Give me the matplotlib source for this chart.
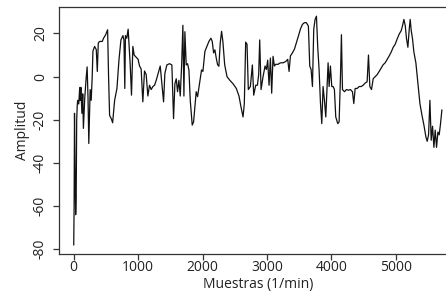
import matplotlib
matplotlib.use('Agg')
import matplotlib.pyplot as plt

# muestras / amplitud
muestras = [0, 6, 12, 20, 30, 38, 46, 55, 62, 78, 93, 101, 111, 127, 140, 150, 171, 192, 208, 222,
            234, 255, 271, 287, 298, 324, 350, 366, 381, 401, 443, 463, 494, 526, 541, 557, 583, 604,
            635, 671, 702, 733, 764, 780, 793, 803, 824, 845, 876, 897, 918, 938, 969, 1000, 1021,
            1047, 1073, 1099, 1125, 1151, 1177, 1203, 1229, 1255, 1281, 1307, 1343, 1364, 1395, 1415,
            1446, 1488, 1524, 1550, 1571, 1592, 1612, 1633, 1654, 1675, 1695, 1711, 1726, 1747, 1768,
            1789, 1809, 1840, 1861, 1882, 1902, 1923, 1954, 1985, 2006, 2037, 2068, 2099, 2130, 2151,
            2172, 2192, 2213, 2234, 2254, 2275, 2296, 2316, 2344, 2380, 2421, 2473, 2525, 2566, 2597,
            2629, 2649, 2670, 2691, 2711, 2743, 2774, 2795, 2826, 2852, 2872, 2888, 2909, 2940, 2971,
            2992, 3012, 3033, 3054, 3074, 3095, 3116, 3137, 3173, 3209, 3250, 3292, 3323, 3344, 3365,
            3396, 3427, 3458, 3489, 3520, 3551, 3582, 3613, 3644, 3665, 3686, 3707, 3727, 3748, 3769,
            3789, 3810, 3831, 3852, 3872, 3893, 3914, 3934, 3950, 3966, 3986, 4007, 4028, 4048, 4069,
            4100, 4121, 4142, 4157, 4173, 4204, 4235, 4266, 4297, 4328, 4349, 4370, 4401, 4432, 4463,
            4494, 4525, 4556, 4577, 4598, 4624, 4650, 4681, 4712, 4743, 4774, 4805, 4836, 4868, 4899,
            4930, 4961, 4992, 5023, 5054, 5085, 5106, 5127, 5148, 5168, 5189, 5210, 5225, 5241, 5261,
            5282, 5313, 5344, 5376, 5407, 5438, 5469, 5489, 5510, 5531, 5551, 5572, 5593, 5613, 5634,
            5655, 5675, 5696, 5717]
amplitud = [-78, -60, -17, -42, -64, -56, -20, -13, -11, -12.7, -5, -11, -5, -17, -8, -24, -10, -1, 4.5, -10,
            -31, -6, -11, 0, 11.8, 14, 12.5, 2.4, 15.5, 16.3, 16.3, 17.8, 19.3, 21.7, 0, -18, -19.5, -21.4,
            -11, -5.5, 7.6, 17, 19, 17, -5.5, 19, 17.8, 22, 6, -8.6, 14, 10, 9, 8, 5,
            3.5, -11.7, 2.6, 1, -9, -4, -6, -4.6, -4, -1.7, 1, 4.9, -1.7, -11.7, 1.4,
            5.4, 6, 5.4, -19.5, -3.3, -1, -7, -1.7, -9, 4.9, 23.8, -9, 20.8, 5.4, 6,
            3, -10.8, -22.5, -21, -14, -7, -9.3, -3, 3.1, 2.4, 11.7, 14, 16.3, 17.8, 16.3,
            11, 12.4, 8.6, 5.5, 4.8, 15.6, 21, 16.3, 5.5, 0, -1.6, -3.3, -5.5, -9, -14,
            -18.7, -12.5, 16, 15, -6, -4.6, 5.4, -8.6, -4, -4, 0.9, 17, -6, 0, 4.9,
            3.3, 7.6, -4, 8.6, -7.7, 9.4, 4.9, 5.7, 5.7, 6.4, 6.4, 7, 8, 2.4, 9.6,
            11, 12.7, 15.7, 18.8, 22, 24.2, 25, 25, 23.4, 4.9, 3.3, -4.6, 22, 26.5, 28,
            13.7, 3.3, -12, -21.8, -4.6, -11, -18.7, -4.6, 6.4, -4.6, 4.9, -4.6, -4.6, -6, -18.7,
            -21.8, -21, 0, 19.4, -6, -7, -6, -6.3, -6, -7, -12.5, -5.5, -5.5, -4.6, -4.6,
            -4, -3, -2.4, 10, -4.6, -6, -1, 0, 0.9, 2.4, 4, 5.5, 6.4, 8, 9.6,
            11.4, 13.6, 15, 17.5, 19.7, 21.3, 23.6, 26.5, 23.6, 17.5, 13.6, 22, 26.5, 21.3, 17.5,
            11.4, 6.4, -3, -12.5, -17.8, -22.5, -28, -30, -27, -11, -29.5, -23, -32.8, -24.8, -32.8,
            -25.7, -27, -21.8, -15.5]

plt.rcParams['font.family'] = ['Open Sans', 'DejaVu Sans']
plt.rcParams['axes.unicode_minus'] = False

fig = plt.figure(figsize=(4.46, 2.94), dpi=100)
ax = fig.add_axes([0.1323, 0.136, 0.8915, 0.840])
ax.plot(muestras, amplitud, color='#111111', linewidth=0.9)

# R style 4% margins
xr = max(muestras) - min(muestras)
yr = max(amplitud) - min(amplitud)
ax.set_xlim(min(muestras) - 0.04 * xr, max(muestras) + 0.04 * xr)
ax.set_ylim(min(amplitud) - 0.04 * yr, max(amplitud) + 0.04 * yr)

ax.set_xticks([0, 1000, 2000, 3000, 4000, 5000])
ax.set_yticks([-80, -60, -40, -20, 0, 20])
for lab in ax.get_yticklabels():
    lab.set_rotation(90)
    lab.set_va('center')

for s in ax.spines.values():
    s.set_color('#333333')
    s.set_linewidth(0.9)
ax.tick_params(axis='both', direction='out', length=4, width=0.9, color='#333333',
               labelsize=10, labelcolor='#222222')
ax.tick_params(axis='x', pad=0.5)
ax.tick_params(axis='y', pad=4)

ax.set_xlabel('Muestras (1/min)', fontsize=10, color='#222222', labelpad=1)
ax.set_ylabel('Amplitud', fontsize=10, color='#222222', labelpad=2)

plt.savefig('out.png', dpi=100)
